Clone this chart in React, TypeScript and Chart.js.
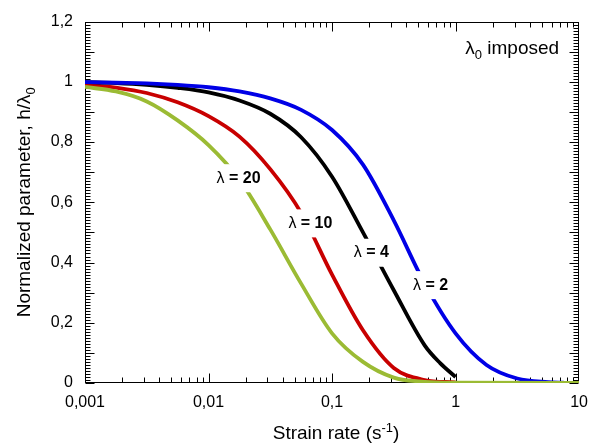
import React, { useEffect, useRef } from "react";
import { Chart, registerables } from "chart.js";

Chart.register(...registerables);

// ---- data (every quarter decade) ----
const blueX = [0.001, 0.00178, 0.00316, 0.00562, 0.01, 0.0178, 0.0316, 0.0562, 0.1, 0.178, 0.316, 0.562, 1, 1.78, 3.16, 5.62, 7.5];
const blueY = [0.999, 0.997, 0.995, 0.99, 0.982, 0.968, 0.945, 0.907, 0.84, 0.725, 0.54, 0.33, 0.165, 0.06, 0.015, 0.003, 0.001];

const blackX = [0.001, 0.00178, 0.00316, 0.00562, 0.01, 0.0178, 0.0316, 0.0562, 0.1, 0.178, 0.316, 0.562, 0.75, 1];
const blackY = [0.999, 0.996, 0.99, 0.98, 0.965, 0.938, 0.894, 0.816, 0.685, 0.5, 0.308, 0.125, 0.066, 0.02];

const redX = [0.001, 0.00178, 0.00316, 0.00562, 0.01, 0.0178, 0.0316, 0.0562, 0.1, 0.178, 0.316, 0.562, 1];
const redY = [0.992, 0.981, 0.963, 0.932, 0.886, 0.818, 0.71, 0.565, 0.36, 0.175, 0.05, 0.01, 0.002];

const greenX = [0.001, 0.00178, 0.00316, 0.00562, 0.01, 0.0178, 0.0316, 0.0562, 0.1, 0.178, 0.316, 0.562, 1, 10];
const greenY = [0.983, 0.968, 0.935, 0.872, 0.79, 0.675, 0.51, 0.33, 0.165, 0.07, 0.018, 0.004, 0.001, 0];

const seriesNames = ["λ = 20", "λ = 2", "λ = 4", "λ = 10"];

// curve labels (placed in data coordinates)
const labelNames = ["λ = 2", "λ = 4", "λ = 10", "λ = 20"];
const labelX = [0.627, 0.208, 0.0668, 0.0175];
const labelY = [0.325, 0.4325, 0.53, 0.68];

// axes
const xMin = 0.001;
const xMax = 10;
const xTickValues = [0.001, 0.01, 0.1, 1, 10];
const xTickLabels = ["0,001", "0,01", "0,1", "1", "10"];
const yMin = 0;
const yMax = 1.2;
const yLabelStep = 0.2;
const yMajorStep = 0.1;
const yMinorStep = 0.01;

const FONT = "'Liberation Sans', Arial, sans-serif";

function pts(xs: number[], ys: number[]) {
  return xs.map((x, i) => ({ x, y: ys[i] }));
}

const decoPlugin = {
  id: "deco",
  beforeDatasetsDraw(chart: any) {
    const { ctx, chartArea: a, scales } = chart;
    const xs = scales.x;
    const ys = scales.y;
    const L = Math.round(a.left) + 0.5;
    const R = Math.round(a.right) - 0.5;
    const T = Math.round(a.top) + 0.5;
    const B = Math.round(a.bottom) - 0.5;
    ctx.save();
    ctx.strokeStyle = "#000";
    ctx.lineWidth = 1;
    ctx.beginPath();
    for (let d = xMin; d < xMax * 0.999; d *= 10) {
      for (let k = 1; k <= 9; k++) {
        const v = k * d;
        const px = Math.round(xs.getPixelForValue(v)) + 0.5;
        const len = k === 1 ? 9 : 5;
        ctx.moveTo(px, B);
        ctx.lineTo(px, B - len);
        ctx.moveTo(px, T);
        ctx.lineTo(px, T + len);
      }
    }
    const n = Math.round((yMax - yMin) / yMinorStep);
    const per = Math.round(yMajorStep / yMinorStep);
    for (let i = 0; i <= n; i++) {
      const v = yMin + i * yMinorStep;
      const py = Math.round(ys.getPixelForValue(v)) + 0.5;
      const len = i % per === 0 ? 9 : 5;
      ctx.moveTo(L, py);
      ctx.lineTo(L + len, py);
      ctx.moveTo(R, py);
      ctx.lineTo(R - len, py);
    }
    ctx.stroke();
    ctx.strokeRect(L, T, R - L, B - T);
    ctx.restore();
  },
  afterDatasetsDraw(chart: any) {
    const { ctx, chartArea: a, scales } = chart;
    const xs = scales.x;
    const ys = scales.y;
    ctx.save();
    labelNames.forEach((name, i) => {
      const px = xs.getPixelForValue(labelX[i]);
      const py = ys.getPixelForValue(labelY[i]);
      const lam = name.slice(0, 1);
      const rest = name.slice(1);
      ctx.font = `16px ${FONT}`;
      const w1 = ctx.measureText(lam).width;
      ctx.font = `bold 16px ${FONT}`;
      const w2 = ctx.measureText(rest).width;
      const w = w1 + w2;
      ctx.fillStyle = "#fff";
      ctx.fillRect(px - w / 2 - 3, py - 14, w + 6, 28);
      ctx.fillStyle = "#000";
      ctx.textBaseline = "middle";
      ctx.textAlign = "left";
      ctx.font = `16px ${FONT}`;
      ctx.fillText(lam, px - w / 2, py);
      ctx.font = `bold 16px ${FONT}`;
      ctx.fillText(rest, px - w / 2 + w1, py);
    });

    ctx.textBaseline = "alphabetic";
    ctx.textAlign = "left";
    ctx.fillStyle = "#000";
    ctx.font = `19px ${FONT}`;
    const wl = ctx.measureText("λ").width;
    const wi = ctx.measureText(" imposed").width;
    ctx.font = `13px ${FONT}`;
    const ws = ctx.measureText("0").width;
    const endX = a.right - 20;
    const base = a.top + 32;
    let sx = endX - (wl + ws + wi);
    ctx.font = `19px ${FONT}`;
    ctx.fillText("λ", sx, base);
    sx += wl;
    ctx.font = `13px ${FONT}`;
    ctx.fillText("0", sx, base + 5);
    sx += ws;
    ctx.font = `19px ${FONT}`;
    ctx.fillText(" imposed", sx, base);

    {
      ctx.font = `19px ${FONT}`;
      const t1 = "Strain rate (s";
      const t3 = ")";
      const w1 = ctx.measureText(t1).width;
      const w3 = ctx.measureText(t3).width;
      ctx.font = `13px ${FONT}`;
      const w2 = ctx.measureText("-1").width;
      const cx = (a.left + a.right) / 2 + 4;
      let x0 = cx - (w1 + w2 + w3) / 2;
      const by = 439;
      ctx.font = `19px ${FONT}`;
      ctx.fillText(t1, x0, by);
      x0 += w1;
      ctx.font = `13px ${FONT}`;
      ctx.fillText("-1", x0, by - 7);
      x0 += w2;
      ctx.font = `19px ${FONT}`;
      ctx.fillText(t3, x0, by);
    }

    {
      ctx.save();
      const cy = (a.top + a.bottom) / 2;
      ctx.translate(30, cy);
      ctx.rotate(-Math.PI / 2);
      ctx.font = `19px ${FONT}`;
      const t1 = "Normalized parameter, h/λ";
      const w1 = ctx.measureText(t1).width;
      ctx.font = `13px ${FONT}`;
      const w2 = ctx.measureText("0").width;
      let x0 = -(w1 + w2) / 2;
      ctx.font = `19px ${FONT}`;
      ctx.fillText(t1, x0, 0);
      x0 += w1;
      ctx.font = `13px ${FONT}`;
      ctx.fillText("0", x0, 5);
      ctx.restore();
    }
    ctx.restore();
  },
};

export default function App() {
  const ref = useRef<HTMLCanvasElement | null>(null);
  useEffect(() => {
    if (!ref.current) return;
    const mk = (label: string, xs: number[], ys: number[], color: string) => ({
      label,
      data: pts(xs, ys),
      borderColor: color,
      backgroundColor: color,
      borderWidth: 3.8,
      pointRadius: 0,
      cubicInterpolationMode: "monotone" as const,
      fill: false,
    });
    const chart = new Chart(ref.current, {
      type: "line",
      data: {
        datasets: [
          mk(seriesNames[0], greenX, greenY, "#9bbb34"),
          mk(seriesNames[1], blueX, blueY, "#0000e6"),
          mk(seriesNames[2], blackX, blackY, "#000000"),
          mk(seriesNames[3], redX, redY, "#c80000"),
        ],
      },
      options: {
        animation: false,
        responsive: false,
        devicePixelRatio: 1,
        layout: { padding: { left: 0, top: 14, right: 11, bottom: 0 } },
        plugins: {
          legend: { display: false },
          tooltip: { enabled: false },
          title: { display: false },
        },
        scales: {
          x: {
            type: "logarithmic",
            min: xMin,
            max: xMax,
            grid: { display: false, drawTicks: false },
            border: { display: false },
            afterBuildTicks: (scale: any) => {
              scale.ticks = xTickValues.map((v) => ({ value: v }));
            },
            afterFit: (scale: any) => {
              scale.height = 65;
            },
            ticks: {
              autoSkip: false,
              maxRotation: 0,
              padding: 10,
              color: "#000",
              font: { family: FONT, size: 16 },
              callback: (_v: any, i: number) => xTickLabels[i],
            },
          },
          y: {
            type: "linear",
            min: yMin,
            max: yMax,
            grid: { display: false, drawTicks: false },
            border: { display: false },
            afterFit: (scale: any) => {
              scale.width = 85;
            },
            ticks: {
              stepSize: yLabelStep,
              padding: 12,
              color: "#000",
              font: { family: FONT, size: 16 },
              callback: (v: any) => String(Number(Number(v).toFixed(1))).replace(".", ","),
            },
          },
        },
      },
      plugins: [decoPlugin],
    });
    return () => chart.destroy();
  }, []);
  return (
    <div style={{ position: "absolute", left: 0, top: 0, width: 598, height: 448, background: "#fff" }}>
      <canvas ref={ref} width={598} height={448} style={{ display: "block" }} />
    </div>
  );
}
